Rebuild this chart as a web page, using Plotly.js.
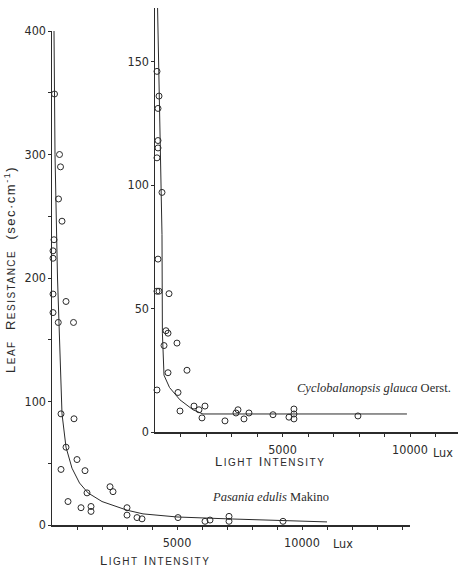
<!DOCTYPE html>
<html><head><meta charset="utf-8">
<script src="https://cdn.plot.ly/plotly-3.0.1.min.js"></script>
<style>html,body{margin:0;padding:0;background:#fff}#chart{width:458px;height:572px}</style>
</head><body><div id="chart"></div>
<script>
// ---- Main panel: Pasania edulis Makino ----
const mainLightX = [100,300,340,260,400,80,40,40,40,560,40,250,860,360,880,560,360,1000,1320,640,1400,1160,1560,1560,2320,2440,3000,3000,3400,3600,5040,6120,6320,7080,7080,9240];
const mainResY   = [349,300,290,264,246,231,222,216,187,181,172,164,164,90,86,63,45,53,44,19,26,14,15,11,31,27,14,8,6,5,6,3,4,7,3,3];
const mainCurveX = [80,120,220,330,400,560,800,1100,1440,2000,3000,3640,5000,7000,9000,11000];
const mainCurveY = [400,300,200,120,90,63,46,34,26,19,12,9,6.5,5,3.5,2.5];
const mainXTicks = [1000,2000,3000,4000,5000,6000,7000,8000,9000,10000,11000,12000,13000,14000];
const mainXTickText = ['','','','','5000','','','','','10000','','','',''];
const mainYTicks = [0,50,100,150,200,250,300,350,400];
const mainYTickText = ['0','','100','','200','','300','','400'];

// ---- Inset panel: Cyclobalanopsis glauca Oerst. ----
const insetLightX = [78,157,118,118,118,78,274,118,78,157,549,431,510,353,862,510,1254,78,902,980,1529,1725,1960,1842,2744,3175,3254,3489,3685,4626,5253,5449,5449,5449,7958];
const insetResY   = [146,136,131,118,115,111,97,70,57,57,56,41,40,35,36,24,25,17,16,8.5,10.5,9,10.5,5.7,4.5,7.7,9,5.3,7.7,7,6,9.3,7.3,5.3,6.5];
const insetCurveX = [100,160,230,274,290,353,570,980,1490,1880,4000,9880];
const insetCurveY = [172,140,110,80,40,23,18,13,9,7.3,7.3,7.3];
const insetXTicks = [1000,2000,3000,4000,5000,6000,7000,8000,9000,10000,11000];
const insetXTickText = ['','','','','5000','','','','','10000',''];
const insetYTicks = [0,50,100,150];
const insetYTickText = ['0','50','100','150'];

const mainLabel = '<i>Pasania edulis</i> Makino';
const insetLabel = '<i>Cyclobalanopsis glauca</i> Oerst.';
const unitLabel = 'Lux';

const W = 458, H = 572;
const px = v => v / W, py = v => 1 - v / H;
const ink = '#2b2b2b';
const narrow = '"Liberation Sans Narrow", "DejaVu Sans Condensed", "Liberation Sans", sans-serif';
const sans = '"Liberation Sans", "DejaVu Sans", sans-serif';
const serif = '"Liberation Serif", "DejaVu Serif", serif';
const tickFont = {family: narrow, size: 12.5, color: ink};
const sc = s => '<span style="font-size:10px">' + s + '</span>';
const spaced = s => '<span style="letter-spacing:1.5px">' + s + '</span>';

const lineStyle = {color: ink, width: 1};
const markerStyle = {symbol: 'circle-open', size: 6, color: ink, line: {width: 1, color: ink}};

const traces = [
  {x: mainCurveX, y: mainCurveY, xaxis: 'x', yaxis: 'y', mode: 'lines', line: lineStyle, cliponaxis: false, hoverinfo: 'skip'},
  {x: mainLightX, y: mainResY, xaxis: 'x', yaxis: 'y', mode: 'markers', marker: markerStyle, cliponaxis: false},
  {x: insetCurveX, y: insetCurveY, xaxis: 'x2', yaxis: 'y2', mode: 'lines', line: lineStyle, cliponaxis: false, hoverinfo: 'skip'},
  {x: insetLightX, y: insetResY, xaxis: 'x2', yaxis: 'y2', mode: 'markers', marker: markerStyle, cliponaxis: false}
];

const axisBase = {showline: true, linecolor: ink, linewidth: 1.5, showgrid: false, zeroline: false,
  ticks: 'outside', ticklen: 3, tickcolor: ink, tickwidth: 1, tickfont: tickFont, tickmode: 'array'};

const ann = (x, y, text, font, extra) => Object.assign({xref: 'paper', yref: 'paper', x: px(x), y: py(y),
  xanchor: 'center', yanchor: 'middle', showarrow: false, text: text, font: font}, extra || {});

const titleFont = {family: sans, size: 13, color: ink};
const speciesFont = {family: serif, size: 12.5, color: ink};

const layout = {
  width: W, height: H, margin: {l: 0, r: 0, t: 0, b: 0},
  paper_bgcolor: '#fff', plot_bgcolor: 'rgba(0,0,0,0)', showlegend: false,
  xaxis: Object.assign({}, axisBase, {domain: [52/W, 410/W], range: [0, 14320], anchor: 'y',
    tickvals: mainXTicks, ticktext: mainXTickText, ticklabelstandoff: 2}),
  yaxis: Object.assign({}, axisBase, {domain: [47/H, 541/H], range: [0, 400], anchor: 'x',
    tickvals: mainYTicks, ticktext: mainYTickText, ticklabelstandoff: -1}),
  xaxis2: Object.assign({}, axisBase, {domain: [155/W, 1], range: [0, 11882], anchor: 'y2',
    tickvals: insetXTicks, ticktext: insetXTickText, ticklabelstandoff: 2}),
  yaxis2: Object.assign({}, axisBase, {domain: [140/H, 564/H], range: [0, 171.66], anchor: 'x2',
    tickvals: insetYTicks, ticktext: insetYTickText, ticklabelstandoff: -1}),
  annotations: [
    ann(10, 270, spaced('L' + sc('EAF') + '  R' + sc('ESISTANCE') + '  (sec·cm<sup>-1</sup>)'), titleFont, {textangle: -90}),
    ann(155, 560, spaced('L' + sc('IGHT') + ' I' + sc('NTENSITY')), titleFont),
    ann(270, 461, spaced('L' + sc('IGHT') + ' I' + sc('NTENSITY')), titleFont),
    ann(343, 543, unitLabel, tickFont),
    ann(443, 452, unitLabel, tickFont),
    ann(270, 497, mainLabel, speciesFont),
    ann(374, 388, insetLabel, speciesFont)
  ]
};

Plotly.newPlot('chart', traces, layout, {staticPlot: true, displayModeBar: false});
</script>
</body></html>
